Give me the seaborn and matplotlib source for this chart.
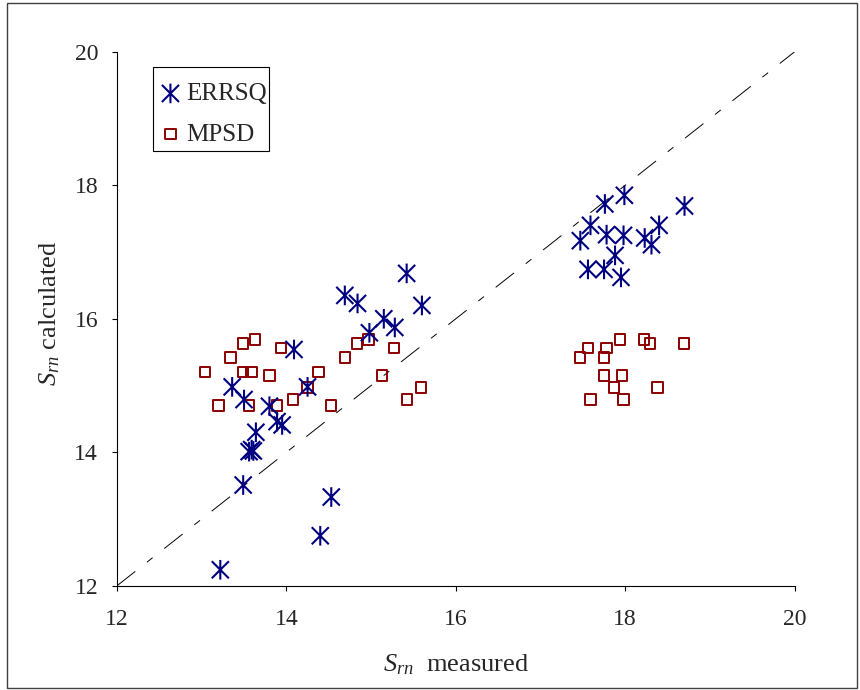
import numpy as np
import pandas as pd
import matplotlib
matplotlib.use('Agg')
import matplotlib.pyplot as plt
from matplotlib.path import Path
from matplotlib.patches import Rectangle
import seaborn as sns

# ERRSQ (asterisks)
errsq_meas = [13.22, 13.49, 13.56, 13.59, 13.61, 13.64, 13.36, 13.50, 13.80, 13.89, 13.95,
              14.09, 14.25, 14.40, 14.53, 14.69, 14.84, 14.98, 15.15, 15.28, 15.42, 15.60,
              17.47, 17.59, 17.76, 17.99, 17.78, 17.98, 17.56, 17.75, 17.88, 17.95,
              18.23, 18.31, 18.40, 18.70]
errsq_calc = [12.24, 13.51, 14.01, 14.04, 14.02, 14.30, 14.98, 14.79, 14.69, 14.46, 14.41,
              15.54, 14.98, 12.75, 13.33, 16.35, 16.23, 15.79, 16.00, 15.87, 16.68, 16.20,
              17.17, 17.40, 17.72, 17.85, 17.26, 17.25, 16.74, 16.74, 16.95, 16.62,
              17.21, 17.11, 17.40, 17.69]

# MPSD (squares)
mpsd_meas = [13.04, 13.20, 13.34, 13.49, 13.63, 13.49, 13.59, 13.56, 13.80, 13.94, 13.89,
             14.08, 14.25, 14.38, 14.53, 14.69, 14.83, 14.97, 15.13, 15.27, 15.42, 15.59,
             17.47, 17.56, 17.59, 17.75, 17.78, 17.75, 17.94, 17.96, 17.87, 17.98,
             18.22, 18.29, 18.38, 18.69]
mpsd_calc = [15.20, 14.70, 15.42, 15.63, 15.69, 15.20, 15.20, 14.70, 15.15, 15.56, 14.70,
             14.79, 14.97, 15.20, 14.70, 15.42, 15.63, 15.69, 15.15, 15.56, 14.79, 14.97,
             15.42, 15.56, 14.79, 15.42, 15.56, 15.15, 15.69, 15.15, 14.97, 14.79,
             15.69, 15.63, 14.97, 15.63]

ticks = [12, 14, 16, 18, 20]

sns.set_style('white')
plt.rcParams['font.family'] = ['Liberation Serif', 'DejaVu Serif']
plt.rcParams['mathtext.fontset'] = 'custom'
plt.rcParams['mathtext.rm'] = 'Liberation Serif'
plt.rcParams['mathtext.it'] = 'Liberation Serif:italic'
plt.rcParams['lines.scale_dashes'] = False

df_e = pd.DataFrame({'meas': errsq_meas, 'calc': errsq_calc})
df_m = pd.DataFrame({'meas': mpsd_meas, 'calc': mpsd_calc})

# asterisk: X with a vertical bar
star = Path([(-1, -1), (1, 1), (-1, 1), (1, -1), (0, -1.15), (0, 1.15)],
            [Path.MOVETO, Path.LINETO] * 3)

fig = plt.figure(figsize=(8.6, 6.9), dpi=100)
ax = fig.add_axes([0.136, 0.151, 0.788, 0.774])

ax.plot([12, 20], [12, 20], color='black', lw=0.7, dashes=(16.8, 10.7, 5.2, 10.7), zorder=1)

sns.scatterplot(data=df_e, x='meas', y='calc', ax=ax, marker=star, s=200,
                facecolor='none', edgecolor='#000080', linewidth=1.5,
                label='ERRSQ', zorder=3)
sns.scatterplot(data=df_m, x='meas', y='calc', ax=ax, marker='s', s=55,
                facecolor='none', edgecolor='#8B0000', linewidth=1.4,
                label='MPSD', zorder=2)

ax.set_xlim(12, 20)
ax.set_ylim(12, 20)
ax.set_xticks(ticks)
ax.set_yticks(ticks)
sns.despine(ax=ax)
for sp in ['left', 'bottom']:
    ax.spines[sp].set_color('black')
    ax.spines[sp].set_linewidth(0.8)
ax.tick_params(axis='both', direction='out', length=3.6, width=0.8, color='black',
               labelsize=17, left=True, bottom=True)
ax.tick_params(axis='x', pad=13)
ax.tick_params(axis='y', pad=10)

ax.set_xlabel(r'$S_{rn}$  measured', fontsize=19, labelpad=16)
ax.set_ylabel(r'$S_{rn}$ calculated', fontsize=19)
ax.yaxis.set_label_coords(-0.081, 0.511)

# legend box drawn separately (tight on the right like the original)
leg = ax.legend(loc='upper left', bbox_to_anchor=(0.066, 0.9424), borderaxespad=0,
                fontsize=18, frameon=False, handlelength=0.7, handletextpad=0.3,
                labelspacing=0.72, borderpad=0)
ax.add_patch(Rectangle((0.0531, 0.8146), 0.1711, 0.1573, transform=ax.transAxes,
                       fill=False, edgecolor='black', lw=0.8, zorder=5, clip_on=False))

fig.patches.append(Rectangle((0.008, 0.003), 0.988, 0.993, transform=fig.transFigure,
                             fill=False, edgecolor='#404040', lw=1.0))

fig.savefig('out.png', dpi=100)
